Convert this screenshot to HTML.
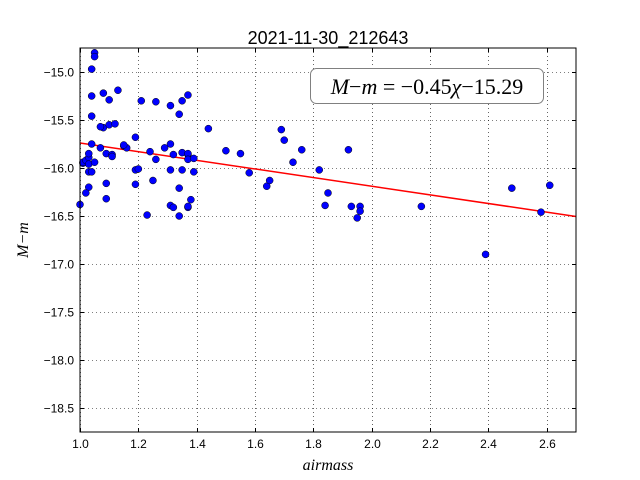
<!DOCTYPE html>
<html><head><meta charset="utf-8"><style>
body{margin:0;background:#fff;}
svg{display:block;font-family:"Liberation Sans",sans-serif;}
</style></head><body>
<svg id="chart" width="640" height="480" viewBox="0 0 640 480">
<rect width="640" height="480" fill="#fff"/>
<text x="328" y="44" font-size="18" text-anchor="middle">2021-11-30_212643</text>
<g id="grid"></g>
<g id="ticks"></g>
<line id="fit" stroke="#ff0000" stroke-width="1.5"/>
<g id="pts"></g>
<rect x="80" y="48" width="496" height="384" fill="none" stroke="#000" stroke-width="1"/>
<g>
<rect x="310.5" y="68.5" width="233" height="35" rx="6" fill="#fff" stroke="#808080" stroke-width="1"/>
<text x="427" y="94" font-size="22" text-anchor="middle" font-family="Liberation Serif,serif"><tspan font-style="italic">M</tspan>−<tspan font-style="italic">m</tspan> = −0.45<tspan font-style="italic">χ</tspan>−15.29</text>
</g>
<text x="328" y="470" font-size="16" text-anchor="middle" font-style="italic" font-family="Liberation Serif,serif">airmass</text>
<text x="28" y="240" font-size="16" text-anchor="middle" font-style="italic" font-family="Liberation Serif,serif" transform="rotate(-90 28 240)">M−m</text>
</svg>
<script>
const xTicks=[1.0,1.2,1.4,1.6,1.8,2.0,2.2,2.4,2.6];
const yTicks=[-15.0,-15.5,-16.0,-16.5,-17.0,-17.5,-18.0,-18.5];
const slope=-0.45, intercept=-15.29;
const airmass=[1.05,1.05,1.04,1.04,1.08,1.10,1.13,1.04,1.08,1.07,1.10,1.12,1.26,1.21,1.31,1.35,1.34,1.37,1.00,1.01,1.01,1.02,1.03,1.03,1.03,1.04,1.05,1.07,1.09,1.09,1.03,1.02,1.03,1.04,1.09,1.11,1.11,1.15,1.16,1.19,1.19,1.19,1.15,1.20,1.24,1.25,1.23,1.26,1.29,1.31,1.32,1.31,1.31,1.32,1.34,1.34,1.37,1.37,1.35,1.35,1.37,1.37,1.37,1.38,1.39,1.39,1.44,1.50,1.55,1.58,1.64,1.65,1.69,1.70,1.73,1.76,1.82,1.84,1.85,1.92,1.93,1.96,1.95,1.96,2.17,2.39,2.48,2.58,2.61];
const mag=[-14.80,-14.84,-14.97,-15.25,-15.22,-15.29,-15.19,-15.46,-15.58,-15.57,-15.55,-15.54,-15.31,-15.30,-15.35,-15.30,-15.44,-15.24,-16.38,-15.95,-15.94,-15.92,-15.89,-15.85,-15.96,-15.75,-15.94,-15.79,-16.16,-16.32,-16.20,-16.26,-16.04,-16.04,-15.85,-15.86,-15.88,-15.77,-15.79,-15.68,-16.02,-16.17,-15.76,-16.01,-15.83,-16.13,-16.49,-15.91,-15.79,-15.75,-15.86,-16.02,-16.39,-16.41,-16.50,-16.21,-15.86,-16.41,-15.84,-16.02,-15.85,-15.91,-16.40,-16.33,-16.04,-15.90,-15.59,-15.82,-15.85,-16.05,-16.19,-16.13,-15.60,-15.71,-15.94,-15.81,-16.02,-16.39,-16.26,-15.81,-16.40,-16.40,-16.52,-16.45,-16.40,-16.90,-16.21,-16.46,-16.18];
const NS="http://www.w3.org/2000/svg";
const X=v=>80+(v-1.0)/1.7*496;
const Y=v=>48+(-14.75-v)/4.0*384;
function mk(tag,parent,attrs){const e=document.createElementNS(NS,tag);for(const k in attrs)e.setAttribute(k,attrs[k]);parent.appendChild(e);return e;}
const grid=document.getElementById('grid'),ticks=document.getElementById('ticks'),pts=document.getElementById('pts');
xTicks.forEach(t=>{const x=Math.round(X(t))+0.5;
const g=mk('line',grid,{x1:x,x2:x,y1:48,y2:432,stroke:'#000','stroke-width':0.6,'stroke-dasharray':'1,3'});


mk('line',ticks,{x1:x,x2:x,y1:432,y2:428,stroke:'#000'});mk('line',ticks,{x1:x,x2:x,y1:48,y2:52,stroke:'#000'});
const l=mk('text',ticks,{x:x,y:448,'font-size':12,'text-anchor':'middle'});l.textContent=t.toFixed(1);

});
yTicks.forEach(t=>{const y=Math.round(Y(t))+0.5;
const g=mk('line',grid,{x1:80,x2:576,y1:y,y2:y,stroke:'#000','stroke-width':0.6,'stroke-dasharray':'1,3'});


mk('line',ticks,{x1:80,x2:84,y1:y,y2:y,stroke:'#000'});mk('line',ticks,{x1:572,x2:576,y1:y,y2:y,stroke:'#000'});
const l=mk('text',ticks,{x:74,y:y+4,'font-size':12,'text-anchor':'end'});l.textContent='\u2212'+Math.abs(t).toFixed(1);

});
const f=document.getElementById('fit');
f.setAttribute('x1',X(1.0));f.setAttribute('y1',Y(slope*1.0+intercept));
f.setAttribute('x2',X(2.7));f.setAttribute('y2',Y(slope*2.7+intercept));
airmass.forEach((a,i)=>{const c=mk('circle',pts,{cx:X(a),cy:Y(mag[i]),r:3.5,fill:'#0000ff',stroke:'#000','stroke-width':0.5});

});
</script>
</body></html>
